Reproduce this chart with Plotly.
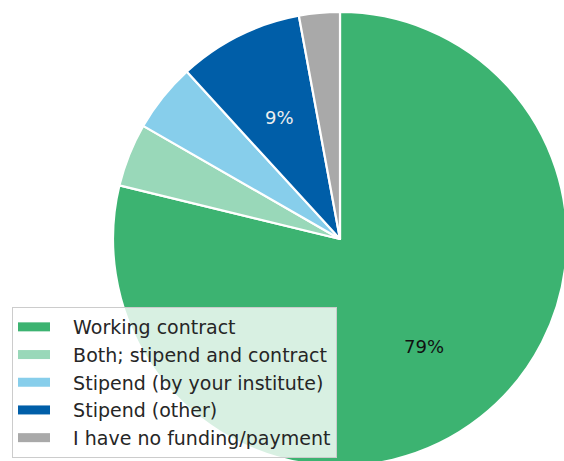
import math
import plotly.graph_objects as go

# Funding situation shares (percent)
labels = [
    "Working contract",
    "Both; stipend and contract",
    "Stipend (by your institute)",
    "Stipend (other)",
    "I have no funding/payment",
]
shares = [78.8, 4.5, 4.9, 8.9, 2.9]
colors = ["#3CB371", "#99D8B9", "#87CEEB", "#005EA8", "#A9A9A9"]
label_colors = ["#111111", None, None, "#EEEEEE", None]
min_label_share = 8.0

W, H = 570, 470
cx, cy, r = 340, 239, 227  # pie centre (px from left/top) and radius

fig = go.Figure(go.Pie(
    labels=labels,
    values=shares,
    sort=False,
    direction="clockwise",
    rotation=0,
    textinfo="none",
    hoverinfo="label+percent",
    showlegend=False,
    marker=dict(colors=colors, line=dict(color="white", width=2.2)),
    domain=dict(x=[(cx - r) / W, (cx + r) / W],
                y=[(H - (cy + r)) / H, (H - (cy - r)) / H]),
))

# Legend entries drawn as wide colour patches, with a gap before the text
gap = "\u00a0" * 3
for lab, col in zip(labels, colors):
    fig.add_trace(go.Scatter(
        x=[None], y=[None], mode="lines", name=gap + lab,
        line=dict(color=col, width=9),
        hoverinfo="skip",
    ))

# Percentage labels placed at 60% of the radius on each wedge's mid-angle
total = sum(shares)
start = 0.0
annotations = []
for lab, val, col in zip(labels, shares, label_colors):
    frac = val / total
    mid = (start + frac / 2) * 2 * math.pi
    start += frac
    if val < min_label_share:
        continue
    px = cx + 0.6 * r * math.sin(mid)
    py = cy - 0.6 * r * math.cos(mid)
    annotations.append(dict(
        x=px / W, y=1 - py / H, xref="paper", yref="paper",
        xanchor="center", yanchor="middle",
        text=f"{round(frac * 100)}%", showarrow=False,
        font=dict(family="DejaVu Sans", size=18, color=col),
    ))

fig.update_layout(
    width=W, height=H,
    margin=dict(l=0, r=0, t=0, b=0),
    paper_bgcolor="white",
    plot_bgcolor="rgba(0,0,0,0)",
    xaxis=dict(visible=False),
    yaxis=dict(visible=False),
    annotations=annotations,
    showlegend=True,
    legend=dict(
        x=12 / W, y=(H - 458) / H, xanchor="left", yanchor="bottom",
        bgcolor="rgba(255,255,255,0.8)",
        bordercolor="#CCCCCC", borderwidth=1,
        font=dict(family="DejaVu Sans", size=19, color="#262626"),
        traceorder="normal",
        itemwidth=32,
    ),
)

fig.write_html(
    "out.html",
    post_script="document.documentElement.style.overflow='hidden';"
                "document.body.style.overflow='hidden';",
)
